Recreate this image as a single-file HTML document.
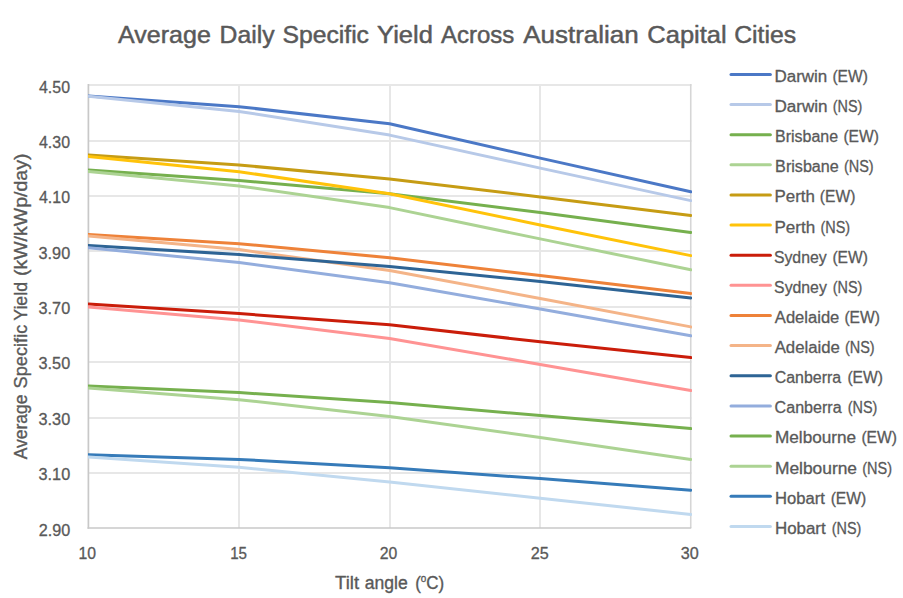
<!DOCTYPE html>
<html lang="en"><head><meta charset="utf-8"><title>Average Daily Specific Yield Across Australian Capital Cities</title>
<style>html,body{margin:0;padding:0;background:#fff;overflow:hidden}svg{display:block}text{font-family:"Liberation Sans",sans-serif;fill:#595959;stroke:#595959;stroke-linejoin:round;white-space:pre}</style></head><body>
<svg width="903" height="598" viewBox="0 0 903 598">
<rect width="903" height="598" fill="#fff" stroke="none"/>
<g stroke="#E7E7E7" stroke-width="2" fill="none">
<line x1="88.40" y1="85.00" x2="691.55" y2="85.00"/>
<line x1="88.40" y1="141.00" x2="691.55" y2="141.00"/>
<line x1="88.40" y1="196.00" x2="691.55" y2="196.00"/>
<line x1="88.40" y1="251.00" x2="691.55" y2="251.00"/>
<line x1="88.40" y1="307.00" x2="691.55" y2="307.00"/>
<line x1="88.40" y1="362.00" x2="691.55" y2="362.00"/>
<line x1="88.40" y1="418.00" x2="691.55" y2="418.00"/>
<line x1="88.40" y1="473.00" x2="691.55" y2="473.00"/>
<line x1="239.00" y1="84.10" x2="239.00" y2="528.00"/>
<line x1="390.00" y1="84.10" x2="390.00" y2="528.00"/>
<line x1="540.00" y1="84.10" x2="540.00" y2="528.00"/>
<line stroke="#D6D6D6" stroke-width="1.6" x1="690.75" y1="84.10" x2="690.75" y2="528.00"/>
</g>
<g stroke="#C8C8C8" stroke-width="1.7" fill="none">
<line x1="88.40" y1="84.10" x2="88.40" y2="528.85"/>
<line x1="87.55" y1="528.00" x2="691.25" y2="528.00"/>
</g>
<clipPath id="pc"><rect x="88" y="80" width="604" height="450"/></clipPath>
<g clip-path="url(#pc)" fill="none" stroke-width="3.00" stroke-linecap="round" stroke-linejoin="round">
<polyline stroke="#4B78C6" points="88.5,96.0 239.1,106.7 389.6,123.7 540.2,158.1 690.8,191.7"/>
<polyline stroke="#B7C9E8" points="88.5,96.3 239.1,111.4 389.6,135.1 540.2,168.1 690.8,200.6"/>
<polyline stroke="#76B04E" points="88.5,170.1 239.1,180.5 389.6,193.7 540.2,212.5 690.8,232.4"/>
<polyline stroke="#ACD393" points="88.5,171.4 239.1,185.9 389.6,207.6 540.2,238.9 690.8,269.7"/>
<polyline stroke="#C69C14" points="88.5,155.0 239.1,165.0 389.6,178.9 540.2,196.9 690.8,215.5"/>
<polyline stroke="#FFC30A" points="88.5,156.4 239.1,171.7 389.6,193.7 540.2,225.0 690.8,255.6"/>
<polyline stroke="#CA1D0A" points="88.5,304.1 239.1,313.6 389.6,324.7 540.2,341.8 690.8,357.6"/>
<polyline stroke="#FF9393" points="88.5,307.0 239.1,319.9 389.6,338.6 540.2,364.4 690.8,390.5"/>
<polyline stroke="#EE8239" points="88.5,234.4 239.1,243.7 389.6,257.7 540.2,275.5 690.8,293.5"/>
<polyline stroke="#F4B488" points="88.5,236.0 239.1,249.6 389.6,270.6 540.2,298.4 690.8,326.9"/>
<polyline stroke="#2E6495" points="88.5,245.4 239.1,254.6 389.6,266.4 540.2,281.6 690.8,298.0"/>
<polyline stroke="#93ADDD" points="88.5,247.8 239.1,262.6 389.6,282.7 540.2,309.0 690.8,335.8"/>
<polyline stroke="#76B04E" points="88.5,386.1 239.1,392.6 389.6,402.5 540.2,415.5 690.8,428.6"/>
<polyline stroke="#ACD393" points="88.5,388.1 239.1,399.7 389.6,416.4 540.2,437.6 690.8,459.6"/>
<polyline stroke="#367BB9" points="88.5,454.8 239.1,459.4 389.6,467.8 540.2,478.6 690.8,490.2"/>
<polyline stroke="#C0D9EF" points="88.5,457.0 239.1,467.3 389.6,482.0 540.2,498.3 690.8,514.4"/>
</g>
<g fill="none" stroke-width="3.00" stroke-linecap="round">
<line stroke="#4B78C6" x1="731.0" y1="74.45" x2="770.4" y2="74.45"/>
<line stroke="#B7C9E8" x1="731.0" y1="104.58" x2="770.4" y2="104.58"/>
<line stroke="#76B04E" x1="731.0" y1="134.71" x2="770.4" y2="134.71"/>
<line stroke="#ACD393" x1="731.0" y1="164.84" x2="770.4" y2="164.84"/>
<line stroke="#C69C14" x1="731.0" y1="194.97" x2="770.4" y2="194.97"/>
<line stroke="#FFC30A" x1="731.0" y1="225.10" x2="770.4" y2="225.10"/>
<line stroke="#CA1D0A" x1="731.0" y1="255.23" x2="770.4" y2="255.23"/>
<line stroke="#FF9393" x1="731.0" y1="285.36" x2="770.4" y2="285.36"/>
<line stroke="#EE8239" x1="731.0" y1="315.49" x2="770.4" y2="315.49"/>
<line stroke="#F4B488" x1="731.0" y1="345.62" x2="770.4" y2="345.62"/>
<line stroke="#2E6495" x1="731.0" y1="375.75" x2="770.4" y2="375.75"/>
<line stroke="#93ADDD" x1="731.0" y1="405.88" x2="770.4" y2="405.88"/>
<line stroke="#76B04E" x1="731.0" y1="436.01" x2="770.4" y2="436.01"/>
<line stroke="#ACD393" x1="731.0" y1="466.14" x2="770.4" y2="466.14"/>
<line stroke="#367BB9" x1="731.0" y1="496.27" x2="770.4" y2="496.27"/>
<line stroke="#C0D9EF" x1="731.0" y1="526.40" x2="770.4" y2="526.40"/>
</g>
<text y="42.90" font-size="24.8" stroke-width="0.5"><tspan x="118.14" textLength="92.73" lengthAdjust="spacingAndGlyphs">Average</tspan> <tspan x="219.53" textLength="55.04" lengthAdjust="spacingAndGlyphs">Daily</tspan> <tspan x="282.49" textLength="86.49" lengthAdjust="spacingAndGlyphs">Specific</tspan> <tspan x="377.14" textLength="55.76" lengthAdjust="spacingAndGlyphs">Yield</tspan> <tspan x="440.95" textLength="73.37" lengthAdjust="spacingAndGlyphs">Across</tspan> <tspan x="523.20" textLength="115.59" lengthAdjust="spacingAndGlyphs">Australian</tspan> <tspan x="647.30" textLength="79.39" lengthAdjust="spacingAndGlyphs">Capital</tspan> <tspan x="734.19" textLength="61.98" lengthAdjust="spacingAndGlyphs">Cities</tspan></text>
<text y="92.70" font-size="16" stroke-width="0.3"><tspan x="39.04" textLength="30.94" lengthAdjust="spacingAndGlyphs">4.50</tspan></text>
<text y="148.05" font-size="16" stroke-width="0.3"><tspan x="39.04" textLength="30.94" lengthAdjust="spacingAndGlyphs">4.30</tspan></text>
<text y="203.40" font-size="16" stroke-width="0.3"><tspan x="39.04" textLength="30.94" lengthAdjust="spacingAndGlyphs">4.10</tspan></text>
<text y="258.75" font-size="16" stroke-width="0.3"><tspan x="38.56" textLength="31.63" lengthAdjust="spacingAndGlyphs">3.90</tspan></text>
<text y="314.10" font-size="16" stroke-width="0.3"><tspan x="38.56" textLength="31.63" lengthAdjust="spacingAndGlyphs">3.70</tspan></text>
<text y="369.45" font-size="16" stroke-width="0.3"><tspan x="38.56" textLength="31.63" lengthAdjust="spacingAndGlyphs">3.50</tspan></text>
<text y="424.80" font-size="16" stroke-width="0.3"><tspan x="38.56" textLength="31.63" lengthAdjust="spacingAndGlyphs">3.30</tspan></text>
<text y="480.15" font-size="16" stroke-width="0.3"><tspan x="38.56" textLength="31.63" lengthAdjust="spacingAndGlyphs">3.10</tspan></text>
<text y="535.50" font-size="16" stroke-width="0.3"><tspan x="38.76" textLength="31.46" lengthAdjust="spacingAndGlyphs">2.90</tspan></text>
<text y="558.90" font-size="16" stroke-width="0.3"><tspan x="78.50" textLength="17.52" lengthAdjust="spacingAndGlyphs">10</tspan></text>
<text y="558.90" font-size="16" stroke-width="0.3"><tspan x="230.19" textLength="16.84" lengthAdjust="spacingAndGlyphs">15</tspan></text>
<text y="558.90" font-size="16" stroke-width="0.3"><tspan x="379.67" textLength="17.54" lengthAdjust="spacingAndGlyphs">20</tspan></text>
<text y="558.90" font-size="16" stroke-width="0.3"><tspan x="530.81" textLength="17.99" lengthAdjust="spacingAndGlyphs">25</tspan></text>
<text y="558.90" font-size="16" stroke-width="0.3"><tspan x="680.89" textLength="17.98" lengthAdjust="spacingAndGlyphs">30</tspan></text>
<text y="589.20" font-size="18" stroke-width="0.35"><tspan x="335.02" textLength="24.02" lengthAdjust="spacingAndGlyphs">Tilt</tspan> <tspan x="364.70" textLength="42.98" lengthAdjust="spacingAndGlyphs">angle</tspan> <tspan x="415.18" textLength="29.11" lengthAdjust="spacingAndGlyphs">(<tspan font-size="10.5" dy="-6.8">o</tspan><tspan dy="6.8">C)</tspan></tspan></text>
<text transform="translate(27.00 0) rotate(-90)" font-size="18" stroke-width="0.35"><tspan x="-459.30" textLength="64.82" lengthAdjust="spacingAndGlyphs">Average</tspan> <tspan x="-388.45" textLength="63.78" lengthAdjust="spacingAndGlyphs">Specific</tspan> <tspan x="-320.75" textLength="38.73" lengthAdjust="spacingAndGlyphs">Yield</tspan> <tspan x="-276.14" textLength="122.53" lengthAdjust="spacingAndGlyphs">(kW/kWp/day)</tspan></text>
<text y="81.85" font-size="16" stroke-width="0.3"><tspan x="774.49" textLength="52.84" lengthAdjust="spacingAndGlyphs">Darwin</tspan> <tspan x="832.39" textLength="35.47" lengthAdjust="spacingAndGlyphs">(EW)</tspan></text>
<text y="111.98" font-size="16" stroke-width="0.3"><tspan x="774.43" textLength="53.18" lengthAdjust="spacingAndGlyphs">Darwin</tspan> <tspan x="832.73" textLength="29.57" lengthAdjust="spacingAndGlyphs">(NS)</tspan></text>
<text y="142.11" font-size="16" stroke-width="0.3"><tspan x="775.11" textLength="63.03" lengthAdjust="spacingAndGlyphs">Brisbane</tspan> <tspan x="843.39" textLength="35.47" lengthAdjust="spacingAndGlyphs">(EW)</tspan></text>
<text y="172.24" font-size="16" stroke-width="0.3"><tspan x="775.14" textLength="63.67" lengthAdjust="spacingAndGlyphs">Brisbane</tspan> <tspan x="843.93" textLength="29.76" lengthAdjust="spacingAndGlyphs">(NS)</tspan></text>
<text y="202.37" font-size="16" stroke-width="0.3"><tspan x="774.51" textLength="40.42" lengthAdjust="spacingAndGlyphs">Perth</tspan> <tspan x="819.82" textLength="35.53" lengthAdjust="spacingAndGlyphs">(EW)</tspan></text>
<text y="232.50" font-size="16" stroke-width="0.3"><tspan x="774.44" textLength="40.76" lengthAdjust="spacingAndGlyphs">Perth</tspan> <tspan x="820.47" textLength="29.68" lengthAdjust="spacingAndGlyphs">(NS)</tspan></text>
<text y="262.63" font-size="16" stroke-width="0.3"><tspan x="773.92" textLength="52.76" lengthAdjust="spacingAndGlyphs">Sydney</tspan> <tspan x="832.39" textLength="35.47" lengthAdjust="spacingAndGlyphs">(EW)</tspan></text>
<text y="292.76" font-size="16" stroke-width="0.3"><tspan x="774.12" textLength="52.69" lengthAdjust="spacingAndGlyphs">Sydney</tspan> <tspan x="832.73" textLength="29.57" lengthAdjust="spacingAndGlyphs">(NS)</tspan></text>
<text y="322.89" font-size="16" stroke-width="0.3"><tspan x="774.86" textLength="64.45" lengthAdjust="spacingAndGlyphs">Adelaide</tspan> <tspan x="844.39" textLength="35.47" lengthAdjust="spacingAndGlyphs">(EW)</tspan></text>
<text y="353.02" font-size="16" stroke-width="0.3"><tspan x="774.67" textLength="65.27" lengthAdjust="spacingAndGlyphs">Adelaide</tspan> <tspan x="844.93" textLength="29.76" lengthAdjust="spacingAndGlyphs">(NS)</tspan></text>
<text y="383.15" font-size="16" stroke-width="0.3"><tspan x="774.73" textLength="66.52" lengthAdjust="spacingAndGlyphs">Canberra</tspan> <tspan x="847.39" textLength="35.47" lengthAdjust="spacingAndGlyphs">(EW)</tspan></text>
<text y="413.28" font-size="16" stroke-width="0.3"><tspan x="774.61" textLength="67.02" lengthAdjust="spacingAndGlyphs">Canberra</tspan> <tspan x="847.73" textLength="29.57" lengthAdjust="spacingAndGlyphs">(NS)</tspan></text>
<text y="443.41" font-size="16" stroke-width="0.3"><tspan x="775.02" textLength="81.13" lengthAdjust="spacingAndGlyphs">Melbourne</tspan> <tspan x="861.38" textLength="35.52" lengthAdjust="spacingAndGlyphs">(EW)</tspan></text>
<text y="473.54" font-size="16" stroke-width="0.3"><tspan x="774.94" textLength="82.08" lengthAdjust="spacingAndGlyphs">Melbourne</tspan> <tspan x="862.20" textLength="29.77" lengthAdjust="spacingAndGlyphs">(NS)</tspan></text>
<text y="503.67" font-size="16" stroke-width="0.3"><tspan x="775.06" textLength="49.90" lengthAdjust="spacingAndGlyphs">Hobart</tspan> <tspan x="830.66" textLength="35.64" lengthAdjust="spacingAndGlyphs">(EW)</tspan></text>
<text y="533.80" font-size="16" stroke-width="0.3"><tspan x="774.92" textLength="50.80" lengthAdjust="spacingAndGlyphs">Hobart</tspan> <tspan x="831.73" textLength="29.57" lengthAdjust="spacingAndGlyphs">(NS)</tspan></text>
</svg></body></html>
